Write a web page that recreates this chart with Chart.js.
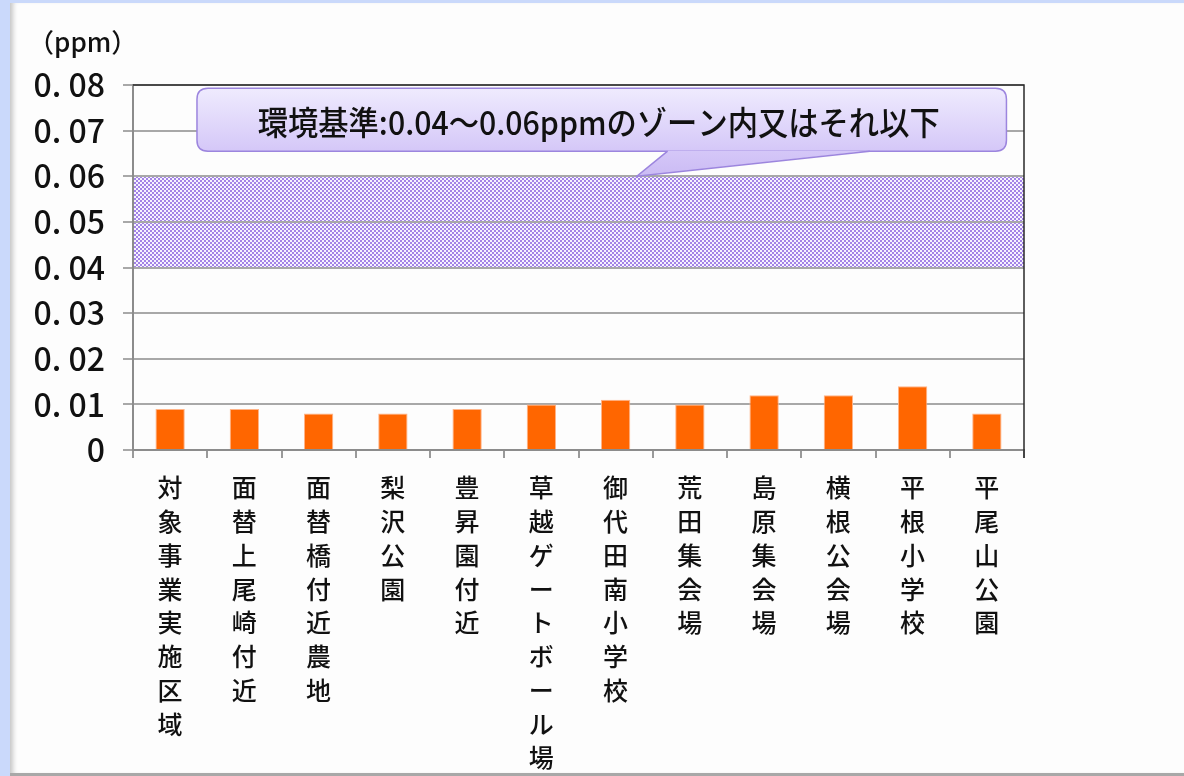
<!DOCTYPE html>
<html lang="ja">
<head>
<meta charset="utf-8">
<title>測定結果</title>
<script src="https://cdn.jsdelivr.net/npm/chart.js@4.4.1/dist/chart.umd.min.js"></script>
<style>
  html, body { margin: 0; padding: 0; }
  body { width: 1184px; height: 776px; background: #CAD9FB; position: relative; overflow: hidden; }
  #panel {
    position: absolute; left: 10px; top: 3px; width: 1174px; height: 770px;
    background: #FDFDFD;
    box-shadow: inset 6px 0 5px -3px rgba(0,0,0,0.22);
    border-bottom: 3px solid #A8A8A8;
  }
  #wrap { position: absolute; left: 0; top: 0; width: 1184px; height: 776px; }
</style>
</head>
<body>
<div id="panel"></div>
<div id="wrap"><canvas id="c" width="1184" height="776"></canvas></div>
<script>
// 測定地点
const sites = [
  '対象事業実施区域', '面替上尾崎付近', '面替橋付近農地', '梨沢公園',
  '豊昇園付近', '草越ゲートボール場', '御代田南小学校', '荒田集会場',
  '島原集会場', '横根公会場', '平根小学校', '平尾山公園'
];
// 濃度 (ppm)
const concentrations = [0.009, 0.009, 0.008, 0.008, 0.009, 0.010, 0.011, 0.010, 0.012, 0.012, 0.014, 0.008];
// 縦軸の目盛ラベル
const yTickLabels = ['0', '0. 01', '0. 02', '0. 03', '0. 04', '0. 05', '0. 06', '0. 07', '0. 08'];
// 環境基準のゾーン (ppm)
const standardZone = [0.04, 0.06];
const unitLabel = '（ppm）';
const calloutText = '環境基準:0.04～0.06ppmのゾーン内又はそれ以下';

const JP = "'Noto Sans CJK JP', 'Noto Sans', sans-serif";

// 網掛け用のパターン
function makeHatch(ctx) {
  const p = document.createElement('canvas');
  p.width = 4; p.height = 4;
  const g = p.getContext('2d');
  g.fillStyle = '#F6F2FF';
  g.fillRect(0, 0, 4, 4);
  g.fillStyle = '#A383E6';
  g.fillRect(0, 0, 2, 2);
  g.fillRect(2, 2, 2, 2);
  return ctx.createPattern(p, 'repeat');
}

const zonePlugin = {
  id: 'zone',
  beforeDraw(chart) {
    const { ctx, chartArea: a, scales: { y } } = chart;
    const top = y.getPixelForValue(standardZone[1]);
    const bot = y.getPixelForValue(standardZone[0]);
    ctx.save();
    ctx.fillStyle = makeHatch(ctx);
    ctx.fillRect(a.left, top, a.right - a.left, bot - top);
    ctx.restore();
  }
};

const framePlugin = {
  id: 'frame',
  afterDatasetsDraw(chart) {
    const { ctx, chartArea: a } = chart;
    ctx.save();
    ctx.strokeStyle = '#2A2A2A';
    ctx.lineWidth = 1.5;
    ctx.beginPath();
    ctx.moveTo(a.left, a.top);
    ctx.lineTo(a.right, a.top);
    ctx.lineTo(a.right, a.bottom + 8);
    ctx.stroke();
    ctx.restore();
  }
};

function roundRectPath(ctx, x, y, w, h, r) {
  ctx.moveTo(x + r, y);
  ctx.lineTo(x + w - r, y);
  ctx.quadraticCurveTo(x + w, y, x + w, y + r);
  ctx.lineTo(x + w, y + h - r);
  ctx.quadraticCurveTo(x + w, y + h, x + w - r, y + h);
  ctx.lineTo(x + r, y + h);
  ctx.quadraticCurveTo(x, y + h, x, y + h - r);
  ctx.lineTo(x, y + r);
  ctx.quadraticCurveTo(x, y, x + r, y);
}

const calloutPlugin = {
  id: 'callout',
  afterDraw(chart) {
    const { ctx, chartArea: a, scales: { y } } = chart;
    const W = a.right - a.left;
    const bx = a.left + W * 0.0718;
    const bw = W * 0.9085;
    const by = y.getPixelForValue(0.0793);
    const bh = y.getPixelForValue(0.0655) - by;
    const tipX = a.left + W * 0.5655;
    const tipY = y.getPixelForValue(standardZone[1]);
    const b1 = a.left + W * 0.6;
    const b2 = a.left + W * 0.827;

    ctx.save();
    const grad = ctx.createLinearGradient(0, by, 0, tipY);
    grad.addColorStop(0, '#EFEBFE');
    grad.addColorStop(0.7, '#D5C8F8');
    grad.addColorStop(1, '#CBBBF4');

    ctx.beginPath();
    roundRectPath(ctx, bx, by, bw, bh, 11);
    ctx.fillStyle = grad;
    ctx.fill();
    ctx.strokeStyle = '#9C85DE';
    ctx.lineWidth = 1.5;
    ctx.stroke();

    // 吹き出しの先端
    ctx.beginPath();
    ctx.moveTo(b1, by + bh - 0.5);
    ctx.lineTo(tipX, tipY);
    ctx.lineTo(b2, by + bh - 0.5);
    ctx.closePath();
    ctx.fillStyle = grad;
    ctx.fill();
    ctx.beginPath();
    ctx.moveTo(b1, by + bh);
    ctx.lineTo(tipX, tipY);
    ctx.lineTo(b2, by + bh);
    ctx.stroke();

    // 文言
    ctx.font = '500 33px ' + JP;
    ctx.fillStyle = '#111111';
    ctx.textBaseline = 'middle';
    ctx.textAlign = 'center';
    const tw = ctx.measureText(calloutText).width;
    const target = 682;
    const cx = (bx + bx + bw) / 2 - 3;
    ctx.translate(cx, by + bh / 2 + 3);
    ctx.scale(target / tw, 1);
    ctx.fillText(calloutText, 0, 0);
    ctx.restore();

    // 単位
    ctx.save();
    ctx.font = '500 26px ' + JP;
    ctx.fillStyle = '#111111';
    ctx.textBaseline = 'middle';
    ctx.textAlign = 'left';
    ctx.fillText(unitLabel, 28, 42);
    ctx.restore();
  }
};

new Chart(document.getElementById('c'), {
  type: 'bar',
  data: {
    labels: sites.map(s => Array.from(s)),
    datasets: [{
      data: concentrations,
      backgroundColor: '#FF6600',
      borderColor: '#FFB488',
      borderWidth: { top: 1, left: 1, right: 1, bottom: 0 },
      borderSkipped: 'bottom',
      categoryPercentage: 1,
      barPercentage: 0.395
    }]
  },
  options: {
    responsive: false,
    animation: false,
    devicePixelRatio: 1,
    layout: { padding: { left: 0, top: 85, right: 160, bottom: 0 } },
    plugins: { legend: { display: false }, tooltip: { enabled: false } },
    scales: {
      x: {
        afterFit(s) { s.height = 326; },
        grid: { offset: true, drawOnChartArea: false, tickLength: 8, color: '#9A9A9A', lineWidth: 2 },
        border: { color: '#8C8C8C', width: 2 },
        ticks: {
          maxRotation: 0, minRotation: 0, autoSkip: false, padding: 13,
          color: '#111111',
          font: { family: JP, size: 25, weight: 500, lineHeight: 1.35 }
        }
      },
      y: {
        min: 0, max: 0.08,
        afterFit(s) { s.width = 133; },
        afterBuildTicks(s) { s.ticks = yTickLabels.map((_, i) => ({ value: i * 0.01 })); },
        grid: { color: '#A8A8A8', lineWidth: 2, tickLength: 10 },
        border: { color: '#8C8C8C', width: 2 },
        ticks: {
          padding: 18,
          color: '#111111',
          font: { family: JP, size: 32, weight: 500 },
          callback: (v, i) => yTickLabels[i]
        }
      }
    }
  },
  plugins: [zonePlugin, framePlugin, calloutPlugin]
});
</script>
</body>
</html>
